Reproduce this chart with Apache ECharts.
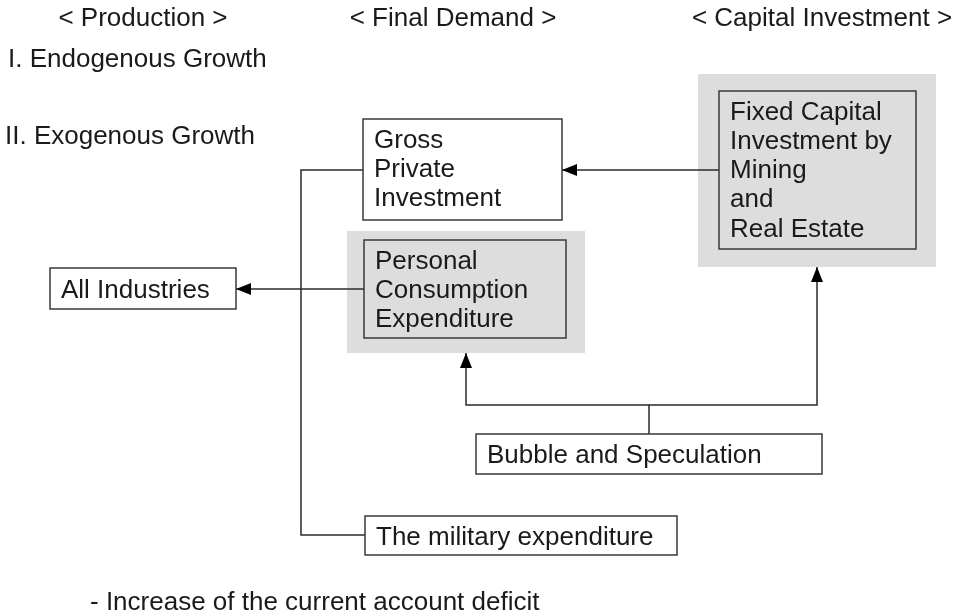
<!DOCTYPE html>
<html>
<head>
<meta charset="utf-8">
<script src="https://cdn.jsdelivr.net/npm/echarts@6/dist/echarts.min.js"></script>
<style>
    html, body { margin: 0; padding: 0; background: #fff; }
    #diagram { width: 954px; height: 615px; }
</style>
</head>
<body>
<div id="diagram"></div>
<script>
// 文字内容
var headerLabels = ['< Production >', '< Final Demand >', '< Capital Investment >'];
var growthLabels = ['I. Endogenous Growth', 'II. Exogenous Growth'];
var boxLabels = [
    'Gross\nPrivate\nInvestment',
    'Personal\nConsumption\nExpenditure',
    'All Industries',
    'Fixed Capital\nInvestment by\nMining\nand\nReal Estate',
    'Bubble and Speculation',
    'The military expenditure'
];
var shadedBoxes = [1, 3];
var noteLabel = '- Increase of the current account deficit';

// 布局（位置，尺寸）
var headerPos = [[143, 19], [453, 19], [822, 19]];
var growthPos = [[8, 60], [5, 137]];
var boxRects = [
    [363, 119, 199, 101],
    [364, 240, 202, 98],
    [50, 268, 186, 41],
    [719, 91, 197, 158],
    [476, 434, 346, 40],
    [365, 516, 312, 39]
];
var shadowRects = { 1: [347, 231, 238, 122], 3: [698, 74, 238, 193] };
var connectors = [
    { pts: [[719, 170], [562, 170]], arrow: true },
    { pts: [[364, 289], [236, 289]], arrow: true },
    { pts: [[363, 170], [301, 170], [301, 535], [365, 535]], arrow: false },
    { pts: [[649, 434], [649, 405], [466, 405], [466, 353]], arrow: true },
    { pts: [[649, 405], [817, 405], [817, 267]], arrow: true }
];

var FONT = '26px "Liberation Sans", Arial, sans-serif';
var TEXT_COLOR = '#1a1a1a';
var LINE_COLOR = '#2a2a2a';

var chart = echarts.init(document.getElementById('diagram'), null, { renderer: 'canvas' });
var elements = [];

headerLabels.forEach(function (t, i) {
    elements.push({
        type: 'text', x: headerPos[i][0], y: headerPos[i][1],
        style: { text: t, font: FONT, fill: TEXT_COLOR, align: 'center', verticalAlign: 'middle' }
    });
});
growthLabels.forEach(function (t, i) {
    elements.push({
        type: 'text', x: growthPos[i][0], y: growthPos[i][1],
        style: { text: t, font: FONT, fill: TEXT_COLOR, align: 'left', verticalAlign: 'middle' }
    });
});

// 灰色底框
shadedBoxes.forEach(function (i) {
    var s = shadowRects[i];
    elements.push({
        type: 'rect', shape: { x: s[0], y: s[1], width: s[2], height: s[3] },
        style: { fill: '#dddddd', stroke: null }
    });
});

// 连线和箭头
connectors.forEach(function (c) {
    elements.push({
        type: 'polyline', shape: { points: c.pts },
        style: { stroke: LINE_COLOR, lineWidth: 1.5, fill: null }
    });
    if (c.arrow) {
        var n = c.pts.length;
        var tip = c.pts[n - 1], prev = c.pts[n - 2];
        var dx = tip[0] - prev[0], dy = tip[1] - prev[1];
        var len = Math.sqrt(dx * dx + dy * dy);
        var ux = dx / len, uy = dy / len;
        var bx = tip[0] - ux * 15, by = tip[1] - uy * 15;
        elements.push({
            type: 'polygon',
            shape: { points: [tip, [bx - uy * 6, by + ux * 6], [bx + uy * 6, by - ux * 6]] },
            style: { fill: '#000' }
        });
    }
});

// 文本框
boxLabels.forEach(function (t, i) {
    var r = boxRects[i];
    var single = t.indexOf('\n') < 0;
    elements.push({
        type: 'rect', shape: { x: r[0], y: r[1], width: r[2], height: r[3] },
        style: { fill: shadedBoxes.indexOf(i) > -1 ? '#dddddd' : '#ffffff', stroke: '#3a3a3a', lineWidth: 1.5 }
    });
    elements.push({
        type: 'text',
        x: r[0] + 11,
        y: single ? r[1] + r[3] / 2 + 2 : r[1] + 7,
        style: {
            text: t, font: FONT, fill: TEXT_COLOR, lineHeight: 29.2,
            align: 'left', verticalAlign: single ? 'middle' : 'top'
        }
    });
});

elements.push({
    type: 'text', x: 90, y: 603,
    style: { text: noteLabel, font: FONT, fill: TEXT_COLOR, align: 'left', verticalAlign: 'middle' }
});

chart.setOption({
    backgroundColor: '#ffffff',
    animation: false,
    graphic: { elements: elements }
});
</script>
</body>
</html>
